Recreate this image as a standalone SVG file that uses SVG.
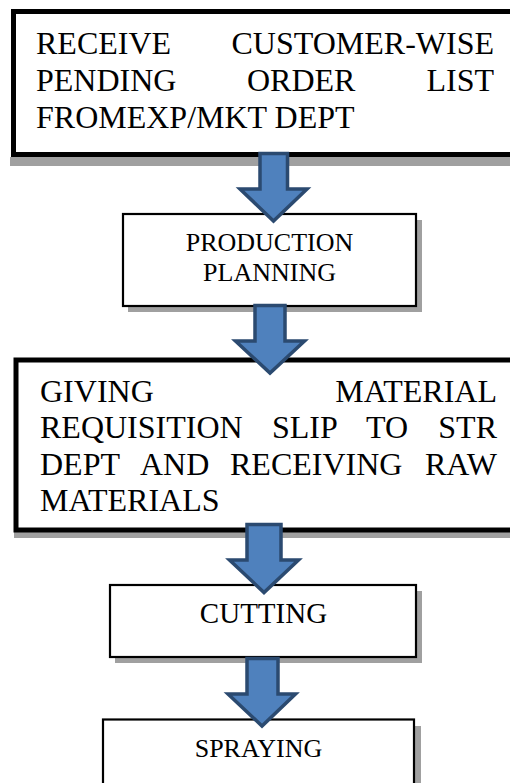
<svg xmlns="http://www.w3.org/2000/svg" width="510" height="783" viewBox="0 0 510 783" font-family="Liberation Serif, Times New Roman, DejaVu Serif, serif">
<style>
.box{fill:#fff;stroke:#000}
.thick{stroke-width:5}
.thin{stroke-width:2.2}
.shadow{fill:#a0a0a0}
text{font-family:'Liberation Serif','Times New Roman','DejaVu Serif',serif;fill:#000}
.big{font-size:32px}
.small{font-size:26px}
.arrow{fill:#4f81bd;stroke:#2b4a70;stroke-width:3.5;stroke-linejoin:miter}
</style>
<rect width="510" height="783" fill="#fff"/>
<g id="n1">
<rect class="shadow" x="10" y="157" width="510" height="9"/>
<rect class="box thick" x="13.5" y="11.5" width="520" height="143"/>
<text class="big" x="36" y="54">RECEIVE</text>
<text class="big" x="494" y="54" text-anchor="end">CUSTOMER-WISE</text>
<text class="big" x="36" y="91">PENDING</text>
<text class="big" x="247" y="91">ORDER</text>
<text class="big" x="494" y="91" text-anchor="end">LIST</text>
<text class="big" x="36" y="128">FROMEXP/MKT DEPT</text>
</g>
<g id="n2">
<rect class="shadow" x="128" y="220" width="294" height="92"/>
<rect class="box thin" x="123" y="214" width="293" height="92"/>
<text class="small" x="269.5" y="251" text-anchor="middle">PRODUCTION</text>
<text class="small" x="269.5" y="281" text-anchor="middle">PLANNING</text>
</g>
<g id="n3">
<rect class="shadow" x="14" y="532" width="510" height="6"/>
<rect class="box thick" x="16" y="360" width="520" height="170"/>
<text class="big" x="40" y="402">GIVING</text>
<text class="big" x="497" y="402" text-anchor="end">MATERIAL</text>
<text class="big" x="40" y="438">REQUISITION</text>
<text class="big" x="272" y="438">SLIP</text>
<text class="big" x="366" y="438">TO</text>
<text class="big" x="497" y="438" text-anchor="end">STR</text>
<text class="big" x="40" y="475">DEPT</text>
<text class="big" x="140" y="475">AND</text>
<text class="big" x="230" y="475">RECEIVING</text>
<text class="big" x="497" y="475" text-anchor="end">RAW</text>
<text class="big" x="40" y="511">MATERIALS</text>
</g>
<g id="n4">
<rect class="shadow" x="115" y="591" width="307" height="72"/>
<rect class="box thin" x="110" y="585" width="306" height="72"/>
<text x="263.5" y="623" text-anchor="middle" style="font-size:29px">CUTTING</text>
</g>
<g id="n5">
<rect class="shadow" x="108" y="726" width="313" height="80"/>
<rect class="box thin" x="103" y="719.5" width="311" height="80"/>
<text class="small" x="258.5" y="757" text-anchor="middle">SPRAYING</text>
</g>
<g id="connectors">
<path class="arrow" d="M260,153.5 H287.5 V189 H307 L273.5,221 L240,189 H260 Z"/>
<path class="arrow" d="M255,305.5 H285 V341 H304.5 L270,373 L235.5,341 H255 Z"/>
<path class="arrow" d="M247,524.5 H281 V560 H298.5 L264,592.5 L229.5,560 H247 Z"/>
<path class="arrow" d="M247,658.5 H278 V694 H295.5 L262,726 L228,694 H247 Z"/>
</g>
</svg>
